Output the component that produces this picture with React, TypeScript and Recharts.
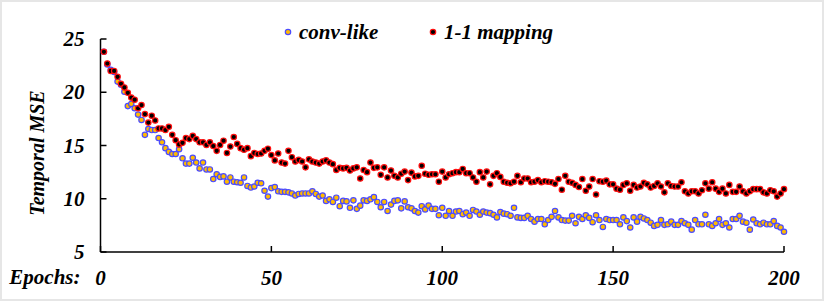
import { ScatterChart, Scatter, XAxis, YAxis } from 'recharts';

const convLike = [
  23.8, 22.6, 22.1, 21.9, 21.0, 20.7, 20.05, 18.7, 18.9, 18.5,
  17.9, 17.4, 16.0, 16.55, 16.45, 16.45, 15.7, 15.3, 14.75, 14.4,
  14.2, 14.2, 14.65, 13.8, 13.3, 13.3, 13.85, 13.4, 12.85, 13.4,
  12.75, 12.75, 11.85, 12.3, 12.05, 12.1, 11.6, 12.0, 11.6, 11.55,
  11.5, 12.0, 11.2, 11.05, 11.15, 11.5, 11.45, 10.75, 10.2, 11.0,
  11.1, 10.7, 10.65, 10.65, 10.6, 10.5, 10.3, 10.45, 10.5, 10.5,
  10.5, 10.7, 10.45, 10.2, 10.3, 9.8, 9.95, 9.7, 10.1, 9.3,
  9.8, 9.75, 9.15, 9.85, 9.05, 9.35, 9.85, 9.8, 9.95, 10.15,
  9.7, 9.2, 9.7, 8.85, 9.45, 9.8, 9.85, 9.1, 9.75, 9.2,
  9.1, 8.85, 8.7, 9.3, 9.0, 9.35, 9.05, 9.05, 8.45, 9.15,
  8.4, 8.85, 8.4, 8.8, 8.85, 8.55, 8.7, 8.4, 8.95, 8.8,
  8.5, 8.8, 8.7, 8.65, 8.5, 8.25, 8.75, 8.6, 8.55, 8.4,
  9.15, 8.25, 8.2, 8.2, 8.4, 8.1, 7.85, 8.1, 8.1, 7.6,
  8.0, 8.3, 8.85, 8.25, 8.0, 7.95, 7.95, 8.4, 7.7, 8.3,
  8.1, 8.45, 8.2, 7.8, 8.45, 8.0, 7.35, 8.1, 8.0, 8.0,
  8.0, 7.6, 8.25, 7.9, 7.3, 8.25, 7.85, 8.3, 8.15, 8.0,
  7.75, 7.45, 7.55, 8.0, 7.55, 7.6, 7.85, 7.55, 7.55, 7.9,
  7.7, 7.55, 7.1, 8.0, 7.6, 7.6, 8.5, 7.6, 7.45, 7.7,
  8.1, 7.55, 7.7, 7.3, 8.1, 8.1, 8.4, 7.85, 7.75, 7.1,
  8.05, 7.7, 7.6, 7.75, 7.6, 7.6, 7.9, 7.45, 7.3, 6.9,
];

const oneToOne = [
  23.8, 22.7, 22.0, 22.0, 21.45, 20.8, 20.45, 19.95, 19.5, 19.3,
  18.5, 18.8, 17.95, 17.15, 17.8, 17.35, 16.6, 16.6, 16.45, 16.75,
  16.0, 15.5, 15.1, 15.25, 15.7, 15.6, 15.9, 15.6, 15.3, 15.3,
  15.05, 15.3, 14.95, 14.5, 15.05, 15.45, 14.3, 14.9, 15.8, 15.15,
  14.75, 14.6, 14.75, 14.0, 14.3, 14.2, 14.25, 14.5, 14.7, 14.1,
  13.6, 14.25, 13.4, 13.3, 14.5, 13.9, 13.5, 13.65, 13.5, 12.95,
  13.7, 13.5, 13.4, 13.3, 13.5, 13.6, 13.4, 13.25, 12.7, 12.9,
  12.85, 12.9, 12.65, 12.85, 12.95, 11.9, 12.7, 12.5, 13.4, 12.9,
  12.95, 12.25, 12.95, 12.0, 12.65, 12.15, 12.0, 12.35, 12.55, 11.75,
  12.45, 12.1, 12.15, 13.1, 12.35, 12.25, 12.3, 12.3, 11.6, 12.55,
  12.0, 12.3, 12.4, 12.5, 12.5, 12.8, 12.4, 12.4, 12.0, 11.6,
  12.5, 12.0, 12.55, 11.35, 12.15, 12.4, 12.05, 11.6, 11.5, 11.45,
  11.6, 12.15, 11.55, 11.9, 11.9, 11.55, 11.6, 11.75, 11.55, 11.65,
  11.6, 11.55, 11.4, 11.85, 10.85, 12.15, 11.6, 11.5, 11.3, 11.1,
  11.85, 10.75, 11.15, 11.85, 10.4, 11.65, 11.6, 11.7, 11.35, 11.35,
  10.95, 10.85, 11.3, 11.45, 10.75, 11.3, 11.05, 11.15, 11.5, 11.35,
  11.05, 11.2, 11.45, 11.15, 10.6, 11.45, 11.2, 11.15, 11.15, 11.55,
  10.7, 10.5, 10.7, 10.7, 10.5, 10.8, 11.45, 10.95, 11.55, 10.95,
  10.65, 10.95, 10.5, 11.3, 10.65, 10.65, 11.15, 10.7, 10.5, 10.7,
  10.9, 10.9, 10.9, 10.6, 10.5, 10.8, 10.7, 10.2, 10.5, 10.9,
];

const xTicks = [0, 50, 100, 150, 200];
const yTicks = [5, 10, 15, 20, 25];

const convData = convLike.map((mse, i) => ({ epoch: i + 1, mse }));
const mapData = oneToOne.map((mse, i) => ({ epoch: i + 1, mse }));

const FONT = '"Liberation Serif", "Times New Roman", serif';
const textStyle = { fontFamily: FONT, fontWeight: 'bold', fontStyle: 'italic' as const };

const BlueDot = (props: any) => (
  <circle cx={props.cx} cy={props.cy} r={2.7} fill="#FFBA00" stroke="#4B4BFF" strokeWidth={1.2} />
);
const RedDot = (props: any) => (
  <circle cx={props.cx} cy={props.cy} r={2.7} fill="#000000" stroke="#FF1010" strokeWidth={1.2} />
);

const YTick = (props: any) => {
  const { x, y, payload } = props;
  return (
    <g>
      <line x1={x + 16} x2={x + 22} y1={y} y2={y} stroke="#000" strokeWidth={1.5} />
      <text x={x} y={y} textAnchor="end" dominantBaseline="central" fontSize={21} fontFamily={FONT} fill="#000" style={textStyle}>
        {payload.value}
      </text>
    </g>
  );
};

const XTick = (props: any) => {
  const { x, y, payload } = props;
  return (
    <g>
      <line x1={x} x2={x} y1={y - 26} y2={y - 32} stroke="#000" strokeWidth={1.5} />
      <text x={x} y={y} textAnchor="middle" dominantBaseline="central" fontSize={21} fontFamily={FONT} fill="#000" style={textStyle}>
        {payload.value}
      </text>
    </g>
  );
};

export default function App() {
  return (
    <div style={{ position: 'absolute', left: 0, top: 0, width: 830, height: 302, background: '#fff' }}>
      <div
        style={{
          position: 'absolute', left: 0, top: 0, width: 820, height: 297,
          border: '2px solid #e6e6e6',
        }}
      />
      <ScatterChart width={830} height={302} margin={{ top: 39, right: 46, bottom: 0, left: 0 }}>
        <XAxis
          type="number"
          dataKey="epoch"
          domain={[0, 200]}
          ticks={xTicks}
          tickSize={0}
          tickMargin={26}
          tickLine={false}
          height={50}
          axisLine={{ stroke: '#000', strokeWidth: 1.5 }}
          tick={<XTick />}
          label={{ value: 'Epochs:', position: 'left', offset: 20, fontSize: 21, fill: '#000', style: textStyle }}
        />
        <YAxis
          type="number"
          dataKey="mse"
          domain={[5, 25]}
          ticks={yTicks}
          tickSize={0}
          tickMargin={16}
          tickLine={false}
          width={100.5}
          axisLine={{ stroke: '#000', strokeWidth: 1.5 }}
          tick={<YTick />}
          label={{
            content: () => (
              <text
                transform="translate(37,153) rotate(-90)"
                textAnchor="middle"
                dominantBaseline="central"
                fontSize={20}
                fontFamily={FONT}
                fill="#000"
                style={textStyle}
              >
                Temporal MSE
              </text>
            ),
          }}
        />
        <Scatter name="conv-like" data={convData} shape={<BlueDot />} isAnimationActive={false} />
        <Scatter name="1-1 mapping" data={mapData} shape={<RedDot />} isAnimationActive={false} />
      </ScatterChart>
      <div style={{ position: 'absolute', left: 0, top: 0, width: 830, height: 60, pointerEvents: 'none' }}>
        <svg width={830} height={60} style={{ position: 'absolute', left: 0, top: 0 }}>
          <circle cx={288} cy={32} r={2.7} fill="#FFBA00" stroke="#4B4BFF" strokeWidth={1.2} />
          <text x={299} y={32} dominantBaseline="central" fontSize={21} fontFamily={FONT} fill="#000" style={textStyle}>conv-like</text>
          <circle cx={433} cy={32} r={2.7} fill="#000" stroke="#FF1010" strokeWidth={1.2} />
          <text x={444} y={32} dominantBaseline="central" fontSize={21} fontFamily={FONT} fill="#000" style={textStyle}>1-1 mapping</text>
        </svg>
      </div>
    </div>
  );
}
